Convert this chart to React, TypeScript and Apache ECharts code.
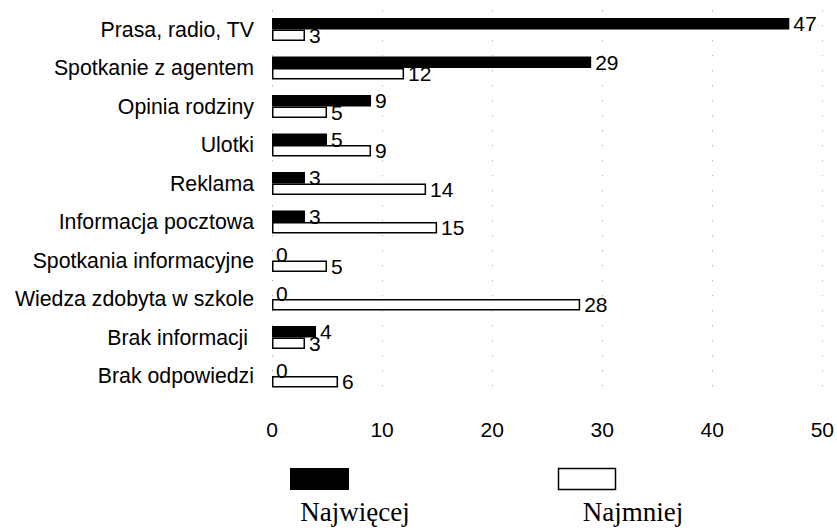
import React, { useEffect, useRef } from "react";
import * as echarts from "echarts";

const categories = [
  "Prasa, radio, TV",
  "Spotkanie z agentem",
  "Opinia rodziny",
  "Ulotki",
  "Reklama",
  "Informacja pocztowa",
  "Spotkania informacyjne",
  "Wiedza zdobyta w szkole",
  "Brak informacji ",
  "Brak odpowiedzi",
];
const najwiecej = [47, 29, 9, 5, 3, 3, 0, 0, 4, 0];
const najmniej = [3, 12, 5, 9, 14, 15, 5, 28, 3, 6];
const seriesNames = ["Najwięcej", "Najmniej"];
const xTicks = { min: 0, max: 50, interval: 10 };

const SANS = "'Liberation Sans', Arial, sans-serif";
const SERIF = "'Liberation Serif', 'Times New Roman', serif";

export default function App() {
  const ref = useRef<HTMLDivElement>(null);
  useEffect(() => {
    if (!ref.current) return;
    const chart = echarts.init(ref.current, null, { renderer: "svg" });
    const labelStyle = {
      show: true,
      position: "right",
      distance: 4,
      color: "#000",
      fontFamily: SANS,
      fontSize: 21,
    };
    chart.setOption({
      animation: false,
      backgroundColor: "#fff",
      grid: { left: 272, right: 14, top: 10.25, bottom: 134.75, containLabel: false },
      xAxis: {
        type: "value",
        min: xTicks.min,
        max: xTicks.max,
        interval: xTicks.interval,
        axisLine: { show: false },
        axisTick: { show: false },
        axisLabel: { color: "#000", fontFamily: SANS, fontSize: 21, margin: 24 },
        splitLine: { show: true, lineStyle: { color: "#999", type: [1, 14], width: 1 } },
      },
      yAxis: {
        type: "category",
        inverse: true,
        data: categories,
        axisLine: { show: false },
        axisTick: { show: false },
        axisLabel: { color: "#000", fontFamily: SANS, fontSize: 21.3, margin: 18 },
        splitLine: { show: false },
      },
      series: [
        {
          name: seriesNames[0],
          type: "bar",
          data: najwiecej,
          barWidth: 11.5,
          barGap: "0%",
          itemStyle: { color: "#000" },
          label: { ...labelStyle },
        },
        {
          name: seriesNames[1],
          type: "bar",
          data: najmniej,
          barWidth: 11.5,
          barGap: "0%",
          itemStyle: { color: "#fff", borderColor: "#000", borderWidth: 1.5 },
          label: { ...labelStyle },
        },
      ],
      graphic: [
        { type: "rect", shape: { x: 290, y: 468, width: 59, height: 22 }, style: { fill: "#000" } },
        {
          type: "rect",
          shape: { x: 558.5, y: 468.5, width: 57, height: 21 },
          style: { fill: "#fff", stroke: "#000", lineWidth: 1.5 },
        },
        {
          type: "text",
          x: 355,
          y: 512,
          style: { text: seriesNames[0], font: `27px ${SERIF}`, fill: "#000", textAlign: "center", textVerticalAlign: "middle" },
        },
        {
          type: "text",
          x: 633,
          y: 512,
          style: { text: seriesNames[1], font: `27px ${SERIF}`, fill: "#000", textAlign: "center", textVerticalAlign: "middle" },
        },
      ],
    });
    return () => chart.dispose();
  }, []);
  return (
    <div
      ref={ref}
      style={{ position: "absolute", left: 0, top: 0, width: 837, height: 530, background: "#fff" }}
    />
  );
}
